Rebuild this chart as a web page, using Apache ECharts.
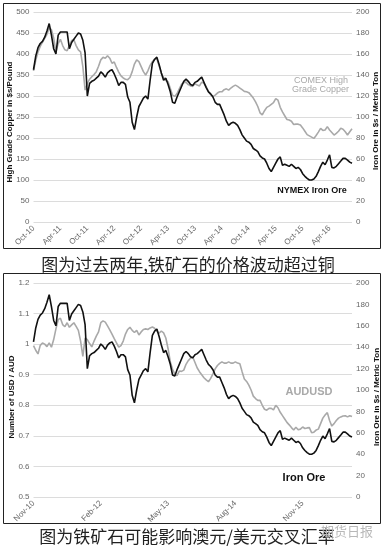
<!DOCTYPE html>
<html><head><meta charset="utf-8">
<script src="https://cdn.jsdelivr.net/npm/echarts@6/dist/echarts.min.js"></script>
<style>html,body{margin:0;padding:0;background:#fff}#c{width:385px;height:549px}</style>
</head><body><div id="c"></div>
<script>
// Month index 0 = first month of data; values sampled every half month
const topTickLabels = ['Oct-10','Apr-11','Oct-11','Apr-12','Oct-12','Apr-13','Oct-13','Apr-14','Oct-14','Apr-15','Oct-15','Apr-16'];
const bottomTickLabels = ['Nov-10','Feb-12','May-13','Aug-14','Nov-15'];

// NYMEX Iron Ore, $/metric ton (half-month steps)
const ironOre = [145,158,166,170,172,176,182,189,178,165,160,178,181,181,181,181,165,171,174,177,
180,179,173,161,120,132,134,135,137,139,143,141,138,142,144,145,141,136,130,133,
133,131,119,114,95,88,100,110,114,118,120,117,135,151,155,157,150,142,135,137,
131,124,114,113,119,124,129,134,136,134,131,130,133,134,136,138,133,128,124,122,
119,114,112,112,107,102,96,92,94,95,94,92,88,83,80,77,76,74,70,68.6,
67,63,61,60,56,51,48,52,56,60,62,54,55,54,53,55,53,51,52,50,
46,43.5,41.5,40,40,41,43.5,48,53,57,54.5,59,64,52,51.5,53,55.5,58,60.6,60.6,
59,57,56];

// COMEX High Grade Copper (left axis units)
const copper = [360,385,405,418,428,437,447,462,458,438,405,425,435,420,410,408,420,432,434,420,
410,405,370,314,330,340,346,351,358,371,386,392,390,396,390,378,381,368,357,348,
343,340,339,344,358,376,386,382,370,358,350,360,373,382,387,388,372,354,344,337,
334,318,302,299,306,317,328,332,333,327,324,323,329,326,324,333,330,322,311,303,
299,302,307,310,310,315,317,314,319,323,326,323,319,315,311,310,308,302,295,286,
275,260,255,265,273,276,280,284,294,290,273,262,253,244,243,240,232,233,233,231,
224,216,208,205,202,199,206,214,223,218,219,227,219,213,207,211,216,223,221,215,
207,215,222];

// AUD/USD
const audusd = [0.995,0.980,0.968,0.996,1.004,1.000,0.992,1.004,0.990,1.015,1.050,1.080,1.085,1.064,1.057,1.070,1.055,1.063,1.070,1.058,
1.045,1.010,0.960,1.020,1.015,1.002,0.991,1.010,1.026,1.040,1.070,1.076,1.072,1.060,1.047,1.033,1.018,1.004,0.990,0.995,
1.010,1.033,1.048,1.055,1.045,1.038,1.045,1.030,1.040,1.048,1.050,1.048,1.053,1.056,1.052,1.042,1.036,1.043,1.037,1.020,
0.985,0.942,0.918,0.902,0.897,0.912,0.911,0.915,0.934,0.946,0.954,0.958,0.940,0.922,0.910,0.900,0.890,0.883,0.877,0.888,
0.903,0.919,0.930,0.937,0.942,0.938,0.938,0.942,0.938,0.938,0.942,0.938,0.936,0.910,0.886,0.878,0.866,0.850,0.830,0.822,
0.816,0.816,0.800,0.787,0.784,0.790,0.790,0.785,0.800,0.792,0.777,0.766,0.755,0.744,0.736,0.727,0.719,0.728,0.720,0.722,
0.729,0.724,0.726,0.727,0.710,0.712,0.719,0.722,0.740,0.758,0.768,0.776,0.750,0.732,0.740,0.750,0.758,0.762,0.765,0.766,
0.762,0.766,0.763];

const toPairs = arr => arr.map((v, i) => [i * 0.5, v]);
const F = 'Liberation Sans Narrow, Liberation Sans, Arial, sans-serif';
const CJK = 'Noto Sans CJK SC, sans-serif';
const lab = {color: '#666', fontSize: 8, fontFamily: F};

const chart = echarts.init(document.getElementById('c'), null, {renderer: 'canvas'});
chart.setOption({
  backgroundColor: '#fff',
  animation: false,
  grid: [
    {left: 33.5, right: 33, top: 12, height: 210},
    {left: 33.5, right: 33, top: 283, height: 214}
  ],
  xAxis: [
    {type: 'value', gridIndex: 0, min: 0, max: 71, interval: 6,
     axisLine: {show: false}, axisTick: {show: false}, splitLine: {show: false},
     axisLabel: Object.assign({}, lab, {rotate: 45, margin: 5, showMaxLabel: false,
       formatter: v => (v % 6 === 0 && topTickLabels[v / 6]) ? topTickLabels[v / 6] : ''})},
    {type: 'value', gridIndex: 1, min: 0, max: 71, interval: 15,
     axisLine: {show: false}, axisTick: {show: false}, splitLine: {show: false},
     axisLabel: Object.assign({}, lab, {rotate: 45, margin: 5, showMaxLabel: false,
       formatter: v => (v % 15 === 0 && bottomTickLabels[v / 15]) ? bottomTickLabels[v / 15] : ''})}
  ],
  yAxis: [
    {type: 'value', gridIndex: 0, min: 0, max: 500, interval: 50, position: 'left',
     axisLine: {show: false}, axisTick: {show: false},
     splitLine: {lineStyle: {color: '#dcdcdc', width: 1}},
     axisLabel: Object.assign({}, lab, {margin: 4})},
    {type: 'value', gridIndex: 0, min: 0, max: 200, interval: 20, position: 'right',
     axisLine: {show: false}, axisTick: {show: false}, splitLine: {show: false},
     axisLabel: Object.assign({}, lab, {margin: 4})},
    {type: 'value', gridIndex: 1, min: 0.5, max: 1.2, interval: 0.1, position: 'left',
     axisLine: {show: false}, axisTick: {show: false},
     splitLine: {lineStyle: {color: '#dcdcdc', width: 1}},
     axisLabel: Object.assign({}, lab, {margin: 4})},
    {type: 'value', gridIndex: 1, min: 0, max: 200, interval: 20, position: 'right',
     axisLine: {show: false}, axisTick: {show: false}, splitLine: {show: false},
     axisLabel: Object.assign({}, lab, {margin: 4})}
  ],
  series: [
    {type: 'line', name: 'COMEX High Grade Copper', xAxisIndex: 0, yAxisIndex: 0, data: toPairs(copper),
     showSymbol: false, lineStyle: {color: '#a9a9a9', width: 1.6}},
    {type: 'line', name: 'NYMEX Iron Ore', xAxisIndex: 0, yAxisIndex: 1, data: toPairs(ironOre),
     showSymbol: false, lineStyle: {color: '#111', width: 1.6}},
    {type: 'line', name: 'AUDUSD', xAxisIndex: 1, yAxisIndex: 2, data: toPairs(audusd),
     showSymbol: false, lineStyle: {color: '#a9a9a9', width: 1.6}},
    {type: 'line', name: 'Iron Ore', xAxisIndex: 1, yAxisIndex: 3, data: toPairs(ironOre),
     showSymbol: false, lineStyle: {color: '#111', width: 1.6}}
  ],
  graphic: [
    {type: 'rect', shape: {x: 3.5, y: 3.5, width: 377, height: 245}, style: {fill: 'none', stroke: '#222', lineWidth: 1}},
    {type: 'rect', shape: {x: 3.5, y: 273.5, width: 377, height: 250}, style: {fill: 'none', stroke: '#222', lineWidth: 1}},
    {type: 'text', x: 10, y: 122, rotation: Math.PI / 2,
     style: {text: 'High Grade Copper in $s/Pound', x: 0, y: 0, align: 'center', verticalAlign: 'middle', fill: '#111', font: 'bold 8px ' + F}},
    {type: 'text', x: 376, y: 121, rotation: Math.PI / 2,
     style: {text: 'Iron Ore in $s / Metric Ton', x: 0, y: 0, align: 'center', verticalAlign: 'middle', fill: '#111', font: 'bold 8px ' + F}},
    {type: 'text', x: 12, y: 397, rotation: Math.PI / 2,
     style: {text: 'Number of USD / AUD', x: 0, y: 0, align: 'center', verticalAlign: 'middle', fill: '#111', font: 'bold 8px ' + F}},
    {type: 'text', x: 377, y: 397, rotation: Math.PI / 2,
     style: {text: 'Iron Ore in $s / Metric Ton', x: 0, y: 0, align: 'center', verticalAlign: 'middle', fill: '#111', font: 'bold 8px ' + F}},
    {type: 'text', style: {text: 'COMEX High', x: 348, y: 81, align: 'right', verticalAlign: 'middle', fill: '#a9a9a9', font: '9px ' + F}},
    {type: 'text', style: {text: 'Grade Copper', x: 349, y: 89.5, align: 'right', verticalAlign: 'middle', fill: '#a9a9a9', font: '9px ' + F}},
    {type: 'text', style: {text: 'NYMEX Iron Ore', x: 312, y: 191, align: 'center', verticalAlign: 'middle', fill: '#111', font: 'bold 9px ' + F}},
    {type: 'text', style: {text: 'AUDUSD', x: 309, y: 392, align: 'center', verticalAlign: 'middle', fill: '#a9a9a9', font: 'bold 11px ' + F}},
    {type: 'text', style: {text: 'Iron Ore', x: 304, y: 478, align: 'center', verticalAlign: 'middle', fill: '#111', font: 'bold 11px ' + F}},
    {type: 'text', style: {text: '图为过去两年,铁矿石的价格波动超过铜', x: 188, y: 265, align: 'center', verticalAlign: 'middle', fill: '#222', font: '17px ' + CJK}},
    {type: 'text', style: {text: '图为铁矿石可能影响澳元/美元交叉汇率', x: 187, y: 537, align: 'center', verticalAlign: 'middle', fill: '#222', font: '17px ' + CJK}},
    {type: 'text', style: {text: '期货日报', x: 347, y: 531, align: 'center', verticalAlign: 'middle', fill: '#b8b8b8', font: '13px ' + CJK}}
  ]
});
</script></body></html>
